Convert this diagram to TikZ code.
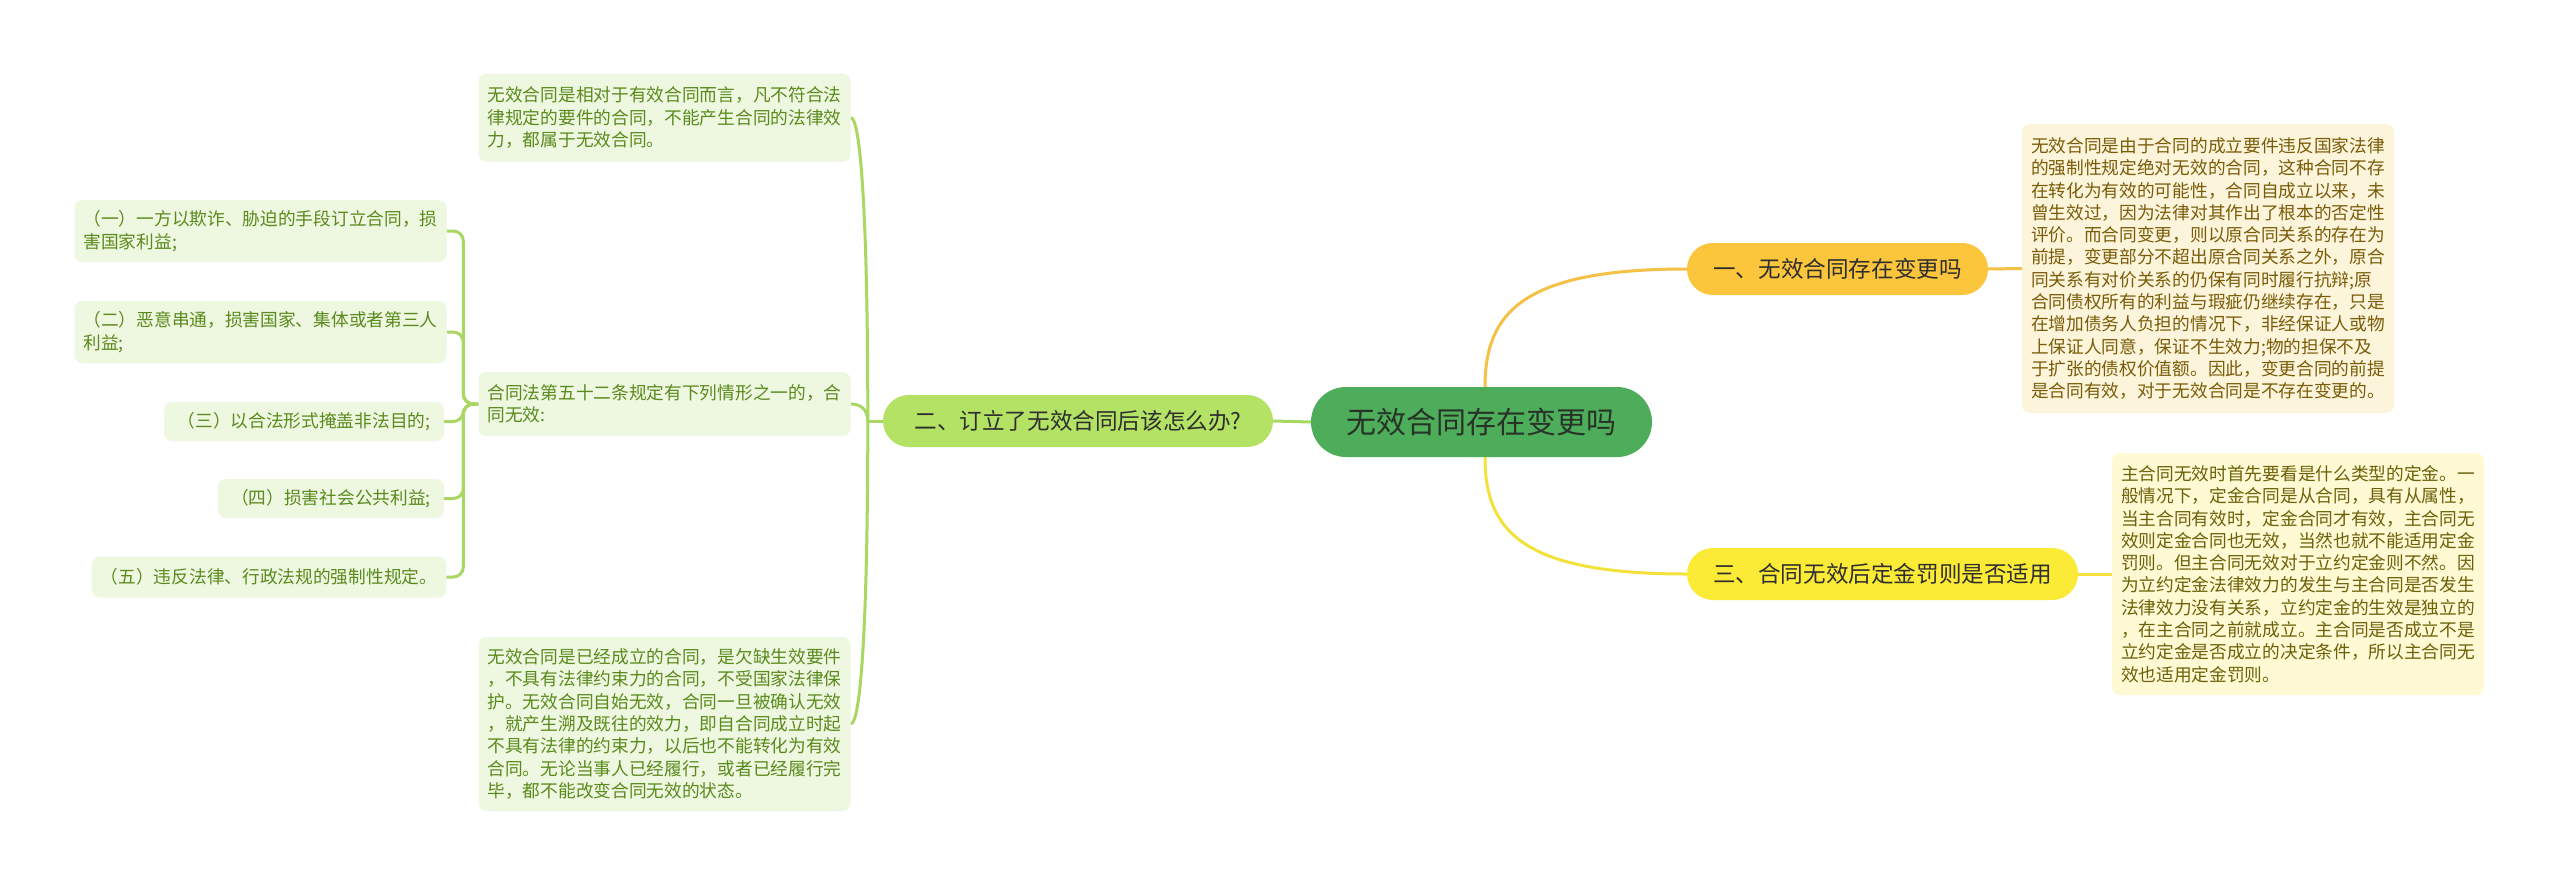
\documentclass[tikz,border=0pt]{standalone}
\usepackage{fontspec}
\setmainfont{Noto Sans CJK SC}
\usetikzlibrary{calc,backgrounds}
\definecolor{rootbg}{HTML}{4EAD5B}
\definecolor{roottx}{HTML}{263326}
\definecolor{btx}{HTML}{2E2E2E}
\definecolor{bgreen}{HTML}{B3E264}
\definecolor{borange}{HTML}{FBC53C}
\definecolor{byellow}{HTML}{FBEA36}
\definecolor{leafbg}{HTML}{EEF7E0}
\definecolor{leaftx}{HTML}{5A8A1C}
\definecolor{ronebg}{HTML}{FCF4DB}
\definecolor{ronetx}{HTML}{7A5C08}
\definecolor{rthreebg}{HTML}{FFFAD4}
\definecolor{rthreetx}{HTML}{6C6008}
\definecolor{lgline}{HTML}{A9D862}
\definecolor{oline}{HTML}{F4C046}
\definecolor{yline}{HTML}{F3E23C}
\begin{document}
\begin{tikzpicture}[x=1pt,y=-1pt,
  leaf/.style={fill=leafbg, text=leaftx, rounded corners=8, inner xsep=9, inner ysep=0,
    align=left, font=\fontsize{17.7}{22.3}\selectfont},
  ronebox/.style={leaf, fill=ronebg, text=ronetx},
  rthreebox/.style={leaf, fill=rthreebg, text=rthreetx},
  branch/.style={rounded corners=25.9, minimum height=52, inner sep=0, text=btx,
    font=\fontsize{22.6}{26}\selectfont},
  rootbox/.style={fill=rootbg, rounded corners=34.9, minimum height=70, minimum width=341,
    inner sep=0, text=roottx, font=\fontsize{30}{34}\selectfont},
  lg/.style={draw=lgline, line width=3},
  og/.style={draw=oline, line width=3},
  yg/.style={draw=yline, line width=3}]
\useasboundingbox (0,0) rectangle (2560,889);

% root and branches
\node[rootbox] (root) at (1481.5,422) {无效合同存在变更吗};
\node[branch, fill=borange, minimum width=301] (b1) at (1837.5,269) {一、无效合同存在变更吗};
\node[branch, fill=byellow, minimum width=391] (b3) at (1882.5,574) {三、合同无效后定金罚则是否适用};
\node[branch, fill=bgreen, minimum width=390] (b2) at (1078,421) {二、订立了无效合同后该怎么办?};

% right leaves
\node[ronebox, minimum width=370, minimum height=289] (r1) at (2208,268.5) {无效合同是由于合同的成立要件违反国家法律\\
的强制性规定绝对无效的合同，这种合同不存\\
在转化为有效的可能性，合同自成立以来，未\\
曾生效过，因为法律对其作出了根本的否定性\\
评价。而合同变更，则以原合同关系的存在为\\
前提，变更部分不超出原合同关系之外，原合\\
同关系有对价关系的仍保有同时履行抗辩;原\\
合同债权所有的利益与瑕疵仍继续存在，只是\\
在增加债务人负担的情况下，非经保证人或物\\
上保证人同意，保证不生效力;物的担保不及\\
于扩张的债权价值额。因此，变更合同的前提\\
是合同有效，对于无效合同是不存在变更的。};
\node[rthreebox, minimum width=370, minimum height=242] (r3) at (2298,574) {主合同无效时首先要看是什么类型的定金。一\\
般情况下，定金合同是从合同，具有从属性，\\
当主合同有效时，定金合同才有效，主合同无\\
效则定金合同也无效，当然也就不能适用定金\\
罚则。但主合同无效对于立约定金则不然。因\\
为立约定金法律效力的发生与主合同是否发生\\
法律效力没有关系，立约定金的生效是独立的\\
，在主合同之前就成立。主合同是否成立不是\\
立约定金是否成立的决定条件，所以主合同无\\
效也适用定金罚则。};

% left leaves
\node[leaf, minimum width=372, minimum height=88] (L1) at (664.5,117.6) {无效合同是相对于有效合同而言，凡不符合法\\
律规定的要件的合同，不能产生合同的法律效\\
力，都属于无效合同。};
\node[leaf, minimum width=372, minimum height=64] (L2) at (664.5,404) {合同法第五十二条规定有下列情形之一的，合\\
同无效:};
\node[leaf, minimum width=372, minimum height=174] (L3) at (664.5,724) {无效合同是已经成立的合同，是欠缺生效要件\\
，不具有法律约束力的合同，不受国家法律保\\
护。无效合同自始无效，合同一旦被确认无效\\
，就产生溯及既往的效力，即自合同成立时起\\
不具有法律的约束力，以后也不能转化为有效\\
合同。无论当事人已经履行，或者已经履行完\\
毕，都不能改变合同无效的状态。};

\node[leaf, minimum width=367, minimum height=62] (S1) at (260.5,231) {（一）一方以欺诈、胁迫的手段订立合同，损\\
害国家利益;};
\node[leaf, minimum width=367, minimum height=62] (S2) at (260.5,332) {（二）恶意串通，损害国家、集体或者第三人\\
利益;};
\node[leaf, minimum width=280, minimum height=39] (S3) at (304,421.5) {（三）以合法形式掩盖非法目的;};
\node[leaf, minimum width=226, minimum height=39] (S4) at (331,498.5) {（四）损害社会公共利益;};
\node[leaf, minimum width=350, minimum height=41] (S5) at (269,577) {（五）违反法律、行政法规的强制性规定。};

% connectors (behind the nodes)
\begin{pgfonlayer}{background}
\fill[white] (0,0) rectangle (2560,889);
\draw[lg] (root.west) -- (b2.east);
\draw[lg] (b2.west) -- ++(-15,0) coordinate (j2);
\foreach \c in {L1,L2,L3}{
  \draw[lg] (j2) .. controls ($(j2)!0.67!(j2 |- \c.east)$) and ($(\c.east)+(10,0)$) .. (\c.east);
}
\foreach \c in {S1,S2,S3,S4,S5}{
  \draw[lg, rounded corners=10] (L2.west) -- ++(-15,0) |- (\c.east);
}
\draw[og] ([xshift=3.5]root.north) .. controls +(0,-75) and +(-163,0) .. (b1.west);
\draw[yg] ([xshift=3.5]root.south) .. controls +(0,75) and +(-163,0) .. (b3.west);
\draw[og] (b1.east) -- (r1.west);
\draw[yg] (b3.east) -- (r3.west);
\end{pgfonlayer}
\end{tikzpicture}
\end{document}
